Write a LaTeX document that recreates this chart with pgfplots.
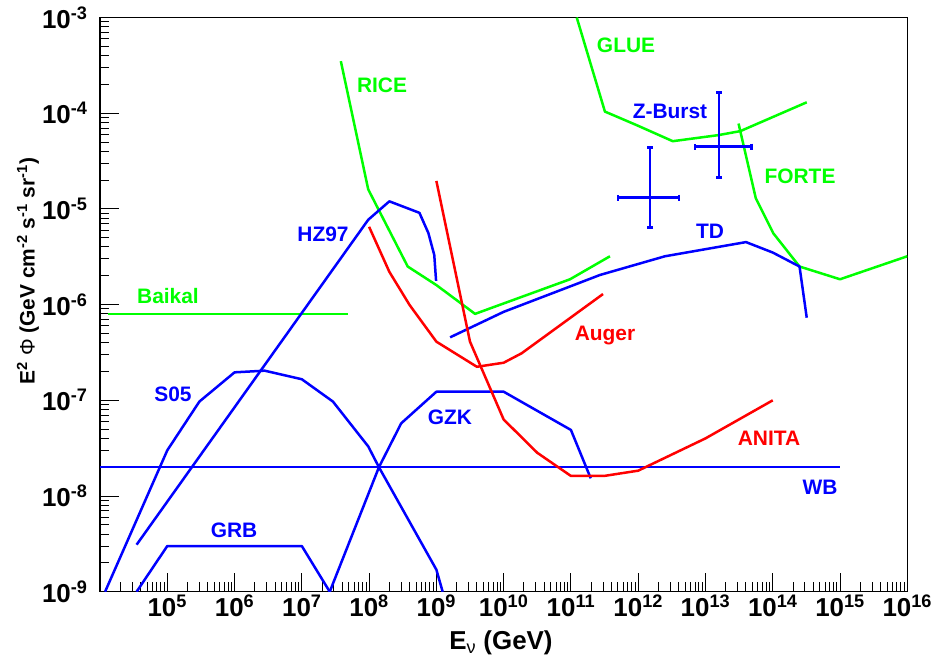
\documentclass[border=0pt]{standalone}
\usepackage{fontspec}
\setmainfont{Liberation Sans}
\usepackage{pgfplots}
\pgfplotsset{compat=1.18}

\definecolor{cgreen}{RGB}{0,255,0}
\definecolor{cblue}{RGB}{0,0,255}
\definecolor{cred}{RGB}{255,0,0}

\newcommand{\tp}[1]{10\textsuperscript{#1}}
\newcommand{\lab}{\fontsize{21}{23}\selectfont\bfseries}

% minor ticks at 2..9 of every decade
\def\minorx{1e4}
\foreach \e in {4,...,15}{\foreach \m in {2,...,9}{\xdef\minorx{\minorx,\m e\e}}}
\def\minory{1e-9}
\foreach \e in {9,...,4}{\foreach \m in {2,...,9}{\xdef\minory{\minory,\m e-\e}}}

\begin{document}
\begin{tikzpicture}
\begin{axis}[
  name=ax,
  xmode=log, ymode=log,
  scale only axis, width=807.3bp, height=574.2bp,
  xmin=1e4, xmax=1e16, ymin=1e-9, ymax=1e-3,
  axis line style={line width=1.2bp},
  xtick={1e5,1e6,1e7,1e8,1e9,1e10,1e11,1e12,1e13,1e14,1e15,1e16},
  xticklabels={\tp{5},\tp{6},\tp{7},\tp{8},\tp{9},\tp{10},\tp{11},\tp{12},\tp{13},\tp{14},\tp{15},\tp{16}},
  ytick={1e-9,1e-8,1e-7,1e-6,1e-5,1e-4,1e-3},
  yticklabels={\tp{-9},\tp{-8},\tp{-7},\tp{-6},\tp{-5},\tp{-4},\tp{-3}},
  minor xtick/.expand once=\minorx,
  minor ytick/.expand once=\minory,
  tick align=inside,
  xtick pos=left, ytick pos=left,
  major tick length=19bp, minor tick length=9.5bp,
  tick style={black, line width=1bp},
  ticklabel style={font=\fontsize{26}{28}\selectfont\bfseries},
  yticklabel style={xshift=-9bp},
  xlabel={E\textsubscript{\mdseries ν} (GeV)},
  every axis x label/.style={at={(axis description cs:0.4967,-0.0893)}, anchor=center,
    font=\fontsize{26}{28}\selectfont\bfseries},
  ylabel={E\textsuperscript{2} {\mdseries Φ} (GeV cm\textsuperscript{-2} s\textsuperscript{-1} sr\textsuperscript{-1})},
  every axis y label/.style={at={(axis description cs:-0.0892,0.5585)}, rotate=90, anchor=center,
    font=\fontsize{21}{23}\selectfont\bfseries},
  every axis plot/.append style={line width=2.5bp, line join=round},
]
% Baikal
\addplot[cgreen] coordinates {(1.3e4,8e-7) (4.9e7,8e-7)};
% RICE
\addplot[cgreen] coordinates {(3.8e7,3.5e-4) (9.7e7,1.6e-5) (3.75e8,2.5e-6) (1e9,1.6e-6) (3.76e9,8e-7) (9.7e10,1.84e-6) (3.8e11,3.2e-6)};
% GLUE
\addplot[cgreen] coordinates {(1.22e11,1e-3) (3.2e11,1.04e-4) (9.5e11,7.5e-5) (3.26e12,5.1e-5) (1.55e13,5.9e-5) (3.3e13,6.5e-5) (3.2e14,1.3e-4)};
% FORTE
\addplot[cgreen] coordinates {(3.1e13,7.8e-5) (5.6e13,1.29e-5) (1.02e14,5.56e-6) (2.5e14,2.5e-6) (1e15,1.84e-6) (1e16,3.2e-6)};
% HZ97
\addplot[cblue] coordinates {(3.5e4,3.1e-9) (9.7e7,7.7e-6) (2e8,1.2e-5) (5.6e8,9.1e-6) (7.6e8,5.6e-6) (9.3e8,3.3e-6) (9.9e8,1.77e-6)};
% S05
\addplot[cblue] coordinates {(1.19e4,1e-9) (1e5,3e-8) (3e5,9.7e-8) (1e6,1.96e-7) (2.8e6,2.04e-7) (1e7,1.66e-7) (2.9e7,9.7e-8) (9.7e7,3.3e-8) (1.4e8,2e-8) (1e9,1.7e-9) (1.24e9,1e-9)};
% GRB
\addplot[cblue] coordinates {(3.5e4,1e-9) (1e5,3e-9) (1e7,3e-9) (2.6e7,1e-9)};
% GZK
\addplot[cblue] coordinates {(2.6e7,1e-9) (1.4e8,2e-8) (3e8,5.75e-8) (1e9,1.23e-7) (1e10,1.23e-7) (1e11,4.9e-8) (1.97e11,1.53e-8)};
% WB
\addplot[cblue] coordinates {(1e4,2e-8) (1e15,2e-8)};
% TD
\addplot[cblue] coordinates {(1.6e9,4.55e-7) (1e10,8.4e-7) (1e11,1.56e-6) (2.7e11,2.04e-6) (2.5e12,3.2e-6) (4e13,4.5e-6) (1e14,3.5e-6) (2.5e14,2.5e-6) (3.2e14,7.3e-7)};
% Auger
\addplot[cred] coordinates {(1e8,6.5e-6) (2e8,2.2e-6) (4e8,9.9e-7) (1e9,4.1e-7) (4e9,2.24e-7) (1e10,2.47e-7) (1.85e10,3.1e-7) (3e11,1.29e-6)};
% ANITA
\addplot[cred] coordinates {(1e9,1.96e-5) (3.16e9,4.1e-7) (1e10,6.3e-8) (3.16e10,2.83e-8) (1e11,1.62e-8) (3.1e11,1.62e-8) (1e12,1.84e-8) (1e13,4e-8) (1e14,1e-7)};
% Z-Burst: crosses with end caps, no central marker
\addplot[cblue, draw=none, mark=none,
  error bars/.cd, x dir=both, x explicit, y dir=both, y explicit,
  error bar style={draw=cblue, line width=2.8bp},
  error mark=-,
  error mark options={draw=cblue, rotate=90, line width=2.8bp, mark size=3bp}]
  table[x=x, y=y, x error plus=xp, x error minus=xm, y error plus=yp, y error minus=ym] {
  x       y        xp       xm      yp        ym
  1.5e12  1.31e-5  2.55e12  1.0e12  3.05e-5   6.7e-6
  1.59e13 4.47e-5  3.28e13  8.9e12  1.203e-4  2.35e-5
};
% curve names
\node[text=cgreen, font=\lab] at (rel axis cs:0.6516,0.952) {GLUE};
\node[text=cgreen, font=\lab] at (rel axis cs:0.3493,0.8824) {RICE};
\node[text=cblue, font=\lab] at (rel axis cs:0.706,0.8372) {Z-Burst};
\node[text=cgreen, font=\lab] at (rel axis cs:0.8671,0.724) {FORTE};
\node[text=cblue, font=\lab] at (rel axis cs:0.7556,0.6282) {TD};
\node[text=cblue, font=\lab] at (rel axis cs:0.2762,0.623) {HZ97};
\node[text=cgreen, font=\lab] at (rel axis cs:0.0842,0.515) {Baikal};
\node[text=cred, font=\lab] at (rel axis cs:0.6255,0.4453) {Auger};
\node[text=cblue, font=\lab] at (rel axis cs:0.0904,0.3443) {S05};
\node[text=cblue, font=\lab] at (rel axis cs:0.4335,0.3042) {GZK};
\node[text=cblue, font=\lab] at (rel axis cs:0.166,0.1075) {GRB};
\node[text=cred, font=\lab] at (rel axis cs:0.8287,0.2677) {ANITA};
\node[text=cblue, font=\lab] at (rel axis cs:0.8919,0.1823) {WB};
\end{axis}
\pgfresetboundingbox
\path (ax.south west) ++(-100bp,-72.3bp) rectangle ++(933bp,664bp);
\end{tikzpicture}
\end{document}
